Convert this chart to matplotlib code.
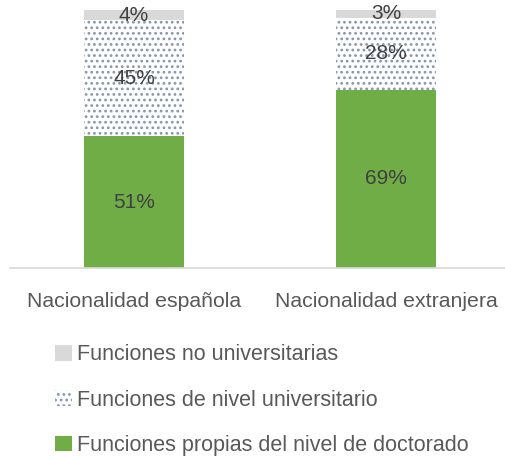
import numpy as np
import matplotlib.pyplot as plt
from matplotlib.patches import Patch

plt.rcParams['hatch.linewidth'] = 1.2

categories = ['Nacionalidad española', 'Nacionalidad extranjera']
doctorado = [51, 69]
universitario = [45, 28]
no_universitario = [4, 3]
series_names = ['Funciones propias del nivel de doctorado',
                'Funciones de nivel universitario',
                'Funciones no universitarias']

W, H = 505, 457
fig = plt.figure(figsize=(W / 100, H / 100), dpi=100)
ax = fig.add_axes([10 / W, (H - 268) / H, 495 / W, 258 / H])

font = 'Liberation Sans'
txt = '#595959'
x = np.arange(len(categories))
width = 0.4

b1 = ax.bar(x, doctorado, width, color='#70AD47')
b2 = ax.bar(x, universitario, width, bottom=doctorado, color='white',
            edgecolor='#8497B0', hatch='...', linewidth=0)
bottom3 = np.array(doctorado) + np.array(universitario)
b3 = ax.bar(x, no_universitario, width, bottom=bottom3, color='#D9D9D9',
            linewidth=0)

for bars, vals, base in [(b1, doctorado, np.zeros(2)),
                         (b2, universitario, np.array(doctorado)),
                         (b3, no_universitario, bottom3)]:
    for xi, v, b0 in zip(x, vals, base):
        ax.text(xi, b0 + v / 2, f'{v}%', ha='center', va='center',
                fontsize=15, color='#404040', family=font)

ax.set_xlim(-0.492, 1.472)
ax.set_ylim(0, 100)
ax.set_yticks([])
ax.set_xticks(x)
ax.set_xticklabels(categories, fontsize=15.3, color=txt, family=font)
ax.tick_params(axis='x', length=0, pad=17)
for s in ['top', 'right', 'left']:
    ax.spines[s].set_visible(False)
ax.spines['bottom'].set_color('#D9D9D9')
ax.spines['bottom'].set_linewidth(1.2)

handles = [Patch(facecolor='#D9D9D9', edgecolor='none'),
           Patch(facecolor='white', edgecolor='#8497B0', hatch='...', linewidth=0),
           Patch(facecolor='#70AD47', edgecolor='none')]
labels = series_names[::-1]
fig.legend(handles, labels, loc='upper left', bbox_to_anchor=(36 / W, 1 - 325 / H),
           frameon=False, handlelength=0.75, handleheight=0.75, handletextpad=0.25,
           labelspacing=1.13, prop={'family': font, 'size': 15.5}, labelcolor=txt)

fig.savefig('out.png', dpi=100)
